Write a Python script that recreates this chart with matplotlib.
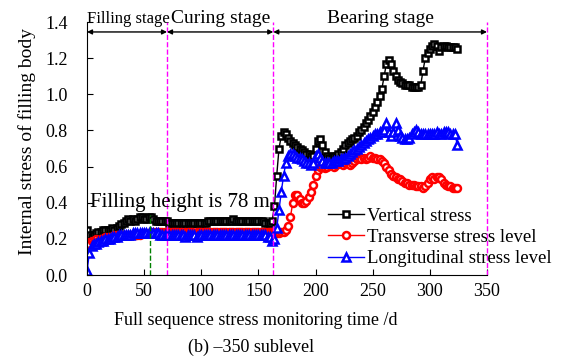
import matplotlib
matplotlib.use('Agg')
import matplotlib.pyplot as plt
import numpy as np

plt.rcParams['font.family'] = 'Liberation Serif'
plt.rcParams['font.size'] = 13

# время мониторинга, сутки (шаг 2 дня)
t = np.arange(0, 326, 2)

# вертикальное напряжение
vert = [0.25, 0.22, 0.21, 0.22, 0.23, 0.24, 0.24, 0.25, 0.25, 0.25,
        0.25, 0.26, 0.25, 0.26, 0.27, 0.28, 0.29, 0.30, 0.31, 0.30,
        0.31, 0.30, 0.31, 0.32, 0.32, 0.31, 0.31, 0.32, 0.32, 0.31,
        0.30, 0.30, 0.30, 0.30, 0.30, 0.30, 0.29, 0.29, 0.29, 0.29,
        0.29, 0.29, 0.29, 0.29, 0.29, 0.29, 0.29, 0.29, 0.29, 0.29,
        0.29, 0.29, 0.29, 0.30, 0.30, 0.30, 0.30, 0.30, 0.30, 0.30,
        0.30, 0.30, 0.30, 0.30, 0.31, 0.30, 0.30, 0.30, 0.30, 0.30,
        0.30, 0.30, 0.30, 0.30, 0.30, 0.30, 0.30, 0.30, 0.29, 0.29,
        0.29, 0.30, 0.38, 0.55, 0.70, 0.77, 0.79, 0.78, 0.76, 0.74,
        0.73, 0.72, 0.71, 0.70, 0.69, 0.68, 0.67, 0.67, 0.66, 0.66,
        0.70, 0.74, 0.75, 0.72, 0.68, 0.66, 0.65, 0.65, 0.66, 0.66,
        0.67, 0.68, 0.70, 0.72, 0.73, 0.74, 0.75, 0.76, 0.77, 0.79,
        0.80, 0.82, 0.84, 0.86, 0.88, 0.90, 0.93, 0.96, 0.99, 1.03,
        1.10, 1.17, 1.19, 1.17, 1.13, 1.10, 1.08, 1.07, 1.06, 1.05,
        1.05, 1.05, 1.04, 1.04, 1.04, 1.04, 1.05, 1.13, 1.20, 1.23,
        1.25, 1.27, 1.28, 1.27, 1.24, 1.26, 1.27, 1.27, 1.26, 1.26,
        1.26, 1.26, 1.25]

# поперечное напряжение
trans = [0.18, 0.17, 0.19, 0.18, 0.20, 0.19, 0.20, 0.20, 0.21, 0.21,
         0.21, 0.21, 0.22, 0.22, 0.22, 0.22, 0.22, 0.22, 0.22, 0.22,
         0.22, 0.22, 0.22, 0.22, 0.23, 0.23, 0.23, 0.23, 0.23, 0.24,
         0.24, 0.24, 0.24, 0.24, 0.24, 0.24, 0.24, 0.24, 0.24, 0.24,
         0.24, 0.24, 0.23, 0.24, 0.24, 0.24, 0.24, 0.23, 0.24, 0.24,
         0.24, 0.24, 0.24, 0.24, 0.24, 0.24, 0.24, 0.24, 0.24, 0.24,
         0.24, 0.24, 0.24, 0.24, 0.24, 0.24, 0.24, 0.24, 0.24, 0.24,
         0.24, 0.24, 0.24, 0.24, 0.24, 0.24, 0.24, 0.24, 0.24, 0.24,
         0.24, 0.24, 0.23, 0.23, 0.23, 0.24, 0.24, 0.25, 0.27, 0.32,
         0.40, 0.44, 0.44, 0.42, 0.40, 0.40, 0.41, 0.43, 0.46, 0.50,
         0.55, 0.58, 0.60, 0.60, 0.59, 0.60, 0.61, 0.61, 0.60, 0.61,
         0.62, 0.62, 0.61, 0.62, 0.62, 0.61, 0.62, 0.63, 0.64, 0.65,
         0.64, 0.65, 0.64, 0.65, 0.66, 0.65, 0.65, 0.64, 0.64, 0.63,
         0.62, 0.60, 0.58, 0.56, 0.55, 0.54, 0.53, 0.53, 0.52, 0.51,
         0.51, 0.50, 0.50, 0.50, 0.49, 0.49, 0.49, 0.48, 0.49, 0.51,
         0.53, 0.54, 0.53, 0.54, 0.54, 0.53, 0.51, 0.50, 0.49, 0.49,
         0.48, 0.48, 0.48]

# продольное напряжение
longi = [0.02, 0.12, 0.16, 0.17, 0.17, 0.18, 0.19, 0.19, 0.20, 0.20,
         0.20, 0.21, 0.21, 0.21, 0.22, 0.22, 0.22, 0.22, 0.22, 0.22,
         0.23, 0.23, 0.23, 0.23, 0.23, 0.23, 0.23, 0.23, 0.23, 0.23,
         0.23, 0.23, 0.22, 0.22, 0.22, 0.22, 0.22, 0.22, 0.22, 0.22,
         0.22, 0.22, 0.22, 0.21, 0.22, 0.22, 0.22, 0.22, 0.21, 0.22,
         0.22, 0.22, 0.22, 0.22, 0.22, 0.22, 0.22, 0.22, 0.22, 0.22,
         0.22, 0.22, 0.22, 0.22, 0.22, 0.22, 0.22, 0.22, 0.22, 0.22,
         0.22, 0.22, 0.22, 0.22, 0.22, 0.22, 0.22, 0.22, 0.22, 0.21,
         0.21, 0.19, 0.20, 0.26, 0.36, 0.46, 0.55, 0.62, 0.66, 0.67,
         0.67, 0.66, 0.65, 0.65, 0.64, 0.63, 0.62, 0.62, 0.61, 0.62,
         0.66, 0.67, 0.65, 0.63, 0.62, 0.62, 0.62, 0.62, 0.63, 0.63,
         0.63, 0.64, 0.64, 0.65, 0.66, 0.67, 0.68, 0.69, 0.70, 0.71,
         0.72, 0.73, 0.74, 0.75, 0.76, 0.77, 0.78, 0.78, 0.79, 0.79,
         0.80, 0.84, 0.79, 0.77, 0.79, 0.84, 0.80, 0.77, 0.76, 0.75,
         0.75, 0.76, 0.78, 0.79, 0.80, 0.79, 0.78, 0.78, 0.78, 0.78,
         0.78, 0.78, 0.78, 0.79, 0.78, 0.78, 0.79, 0.79, 0.79, 0.78,
         0.78, 0.78, 0.72]

# границы стадий
stages = ['Filling stage', 'Curing stage', 'Bearing stage']
bounds = [0, 70, 163, 350]
fill_day = 55

fig = plt.figure(figsize=(5.74, 3.61), dpi=100)
ax = fig.add_axes([0.1516, 0.2382, 0.6968, 0.7008])

ax.plot(t, vert, '-s', color='black', mfc='white', mec='black', ms=4.8, mew=1.8, lw=1, label='Vertical stress')
ax.plot(t, trans, '-o', color='red', mfc='white', mec='red', ms=5, mew=1.8, lw=1, label='Transverse stress level')
ax.plot(t, longi, '-^', color='blue', mfc='white', mec='blue', ms=5.5, mew=1.8, lw=1, label='Longitudinal stress level')

# вертикальные линии стадий
for b in bounds[1:]:
    ax.plot([b, b], [0, 1.4], '--', color='magenta', lw=1, clip_on=False)
ax.plot([fill_day, fill_day], [0, 0.33], '--', color='green', lw=1)

# стрелки и подписи стадий
for i in range(3):
    ax.annotate('', xy=(bounds[i + 1], 1.345), xytext=(bounds[i], 1.345),
                arrowprops=dict(arrowstyle='<|-|>', color='black', lw=1,
                                mutation_scale=7, shrinkA=0, shrinkB=0),
                annotation_clip=False)
ax.text(0, 1.37, stages[0], ha='left', va='bottom', fontsize=12)
ax.text((bounds[1] + bounds[2]) / 2, 1.37, stages[1], ha='center', va='bottom', fontsize=14)
ax.text((bounds[2] + bounds[3]) / 2, 1.37, stages[2], ha='center', va='bottom', fontsize=14)

ax.text(3, 0.40, 'Filling height is 78 m', ha='left', va='center', fontsize=15)

ax.set_xlim(0, 350)
ax.set_ylim(0, 1.4)
ax.set_xticks(np.arange(0, 351, 50))
ax.set_yticks(np.arange(0, 1.41, 0.2))
ax.yaxis.set_major_formatter(matplotlib.ticker.FormatStrFormatter('%.1f'))
ax.tick_params(direction='in', length=4)
ax.tick_params(axis='y', pad=14)
ax.tick_params(axis='x', pad=6)
ax.spines['top'].set_visible(False)
ax.spines['right'].set_visible(False)
ax.set_xlabel('Full sequence stress monitoring time /d', fontsize=13)
ax.xaxis.set_label_coords(0.4225, -0.145)
ax.set_ylabel('Internal stress of filling body', fontsize=14)
ax.yaxis.set_label_coords(-0.1275, 0.526)

ax.legend(loc='lower left', bbox_to_anchor=(0.6025, 0.03), frameon=False, fontsize=13.5,
          handlelength=1.9, handletextpad=0.2, labelspacing=0.23, borderaxespad=0,
          borderpad=0)

fig.text(0.437, 0.039, '(b) \u2013350 sublevel', ha='center', va='center', fontsize=13)

plt.savefig('out.png', dpi=100)
